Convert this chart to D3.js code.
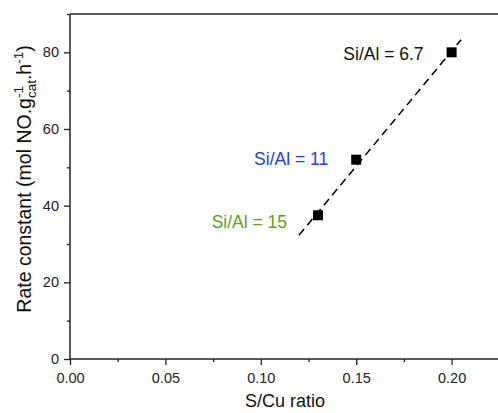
<!DOCTYPE html>
<html>
<head>
<meta charset="utf-8">
<script src="https://cdn.jsdelivr.net/npm/d3@7/dist/d3.min.js"></script>
<style>
  html, body { margin: 0; padding: 0; background: #fff; }
  svg { display: block; font-family: "Liberation Sans", Arial, sans-serif; }
</style>
</head>
<body>
<svg id="chart" width="498" height="413"></svg>
<script>
// ---- data ----
const sCuRatio = [0.13, 0.15, 0.20];
const rateConstant = [37.5, 52, 80];
const siAlLabels = ["Si/Al = 15", "Si/Al = 11", "Si/Al = 6.7"];
const labelColors = ["#5f9f1f", "#1e3ef5", "#111111"];
const fitX = [0.12, 0.205];
const fitY = [32.3, 83.3];
const xTicks = [0.00, 0.05, 0.10, 0.15, 0.20];
const xMinorTicks = [0.025, 0.075, 0.125, 0.175, 0.225];
const yTicks = [0, 20, 40, 60, 80];
const yMinorTicks = [10, 30, 50, 70, 90];

(function () {
// ---- layout ----
const svg = d3.select("#chart");
const mLeft = 70, mTop = 14, mBottom = 359, mRight = 499.3;
const x = d3.scaleLinear().domain([0, 0.225]).range([mLeft, mRight]);
const y = d3.scaleLinear().domain([0, 90]).range([mBottom, mTop]);
const axisColor = "#222";

// minor ticks
const xMinor = svg.append("g").attr("transform", `translate(0,${mBottom})`)
  .call(d3.axisBottom(x).tickValues(xMinorTicks).tickSize(3).tickFormat(""));
const yMinor = svg.append("g").attr("transform", `translate(${mLeft},0)`)
  .call(d3.axisLeft(y).tickValues(yMinorTicks).tickSize(3).tickFormat(""));
[xMinor, yMinor].forEach(g => {
  g.select(".domain").remove();
  g.selectAll("line").attr("stroke", axisColor).attr("stroke-width", 1.3);
});

// major axes
const xAxis = svg.append("g").attr("transform", `translate(0,${mBottom})`)
  .call(d3.axisBottom(x).tickValues(xTicks).tickSize(6).tickPadding(8).tickFormat(d3.format(".2f")));
const yAxis = svg.append("g").attr("transform", `translate(${mLeft},0)`)
  .call(d3.axisLeft(y).tickValues(yTicks).tickSize(6).tickPadding(5).tickFormat(d3.format("d")));
[xAxis, yAxis].forEach(g => {
  g.select(".domain").attr("stroke", axisColor).attr("stroke-width", 1.5);
  g.selectAll("line").attr("stroke", axisColor).attr("stroke-width", 1.3);
  g.selectAll("text").attr("fill", "#222").style("font-size", "14.5px")
    .style("font-family", "'Liberation Sans', Arial, sans-serif");
});
xAxis.select(".domain").attr("d", `M${mLeft},0H${mRight}`);
yAxis.select(".domain").attr("d", `M0,${mBottom}V${mTop}`);

// top frame line
svg.append("line").attr("x1", mLeft).attr("x2", mRight).attr("y1", mTop).attr("y2", mTop)
  .attr("stroke", axisColor).attr("stroke-width", 1.5);

// fit line (dashed)
svg.append("path")
  .datum(fitX.map((d, i) => [d, fitY[i]]))
  .attr("d", d3.line().x(d => x(d[0])).y(d => y(d[1])))
  .attr("fill", "none").attr("stroke", "#000").attr("stroke-width", 1.5)
  .attr("stroke-dasharray", "8,5");

// points
svg.append("g").selectAll("rect").data(sCuRatio).join("rect")
  .attr("x", (d) => x(d) - 5)
  .attr("y", (d, i) => y(rateConstant[i]) - 5)
  .attr("width", 10).attr("height", 10).attr("fill", "#000");

// labels
const labelDx = [-31, -28, -28];
const labelDy = [13, 5, 8];
svg.append("g").selectAll("text").data(siAlLabels).join("text")
  .attr("x", (d, i) => x(sCuRatio[i]) + labelDx[i])
  .attr("y", (d, i) => y(rateConstant[i]) + labelDy[i])
  .attr("text-anchor", "end")
  .attr("fill", (d, i) => labelColors[i])
  .style("font-size", "17.5px")
  .text(d => d);

// axis titles
svg.append("text").attr("x", 285).attr("y", 407)
  .attr("text-anchor", "middle").attr("fill", "#111").style("font-size", "18px")
  .text("S/Cu ratio");

// y title with stacked sub/superscript
const gT = svg.append("g").attr("fill", "#111");
const big = 19.5, small = 13.5;
const pieces = [];
let pos = 0;
function addText(str, size, shift) {
  const t = gT.append("text").style("font-size", size + "px").text(str);
  const w = t.node().getComputedTextLength();
  pieces.push({ t, at: pos, shift });
  return w;
}
pos += addText("Rate constant (mol NO.g", big, 0);
const w1 = addText("cat", small, 5);
const w2 = addText("-1", small, -8.5);
pos += Math.max(w1, w2);
pos += addText(".h", big, 0);
pos += addText("-1", small, -8.5);
pos += addText("  )", big, 0);
const total = pos;
const startY = 179 + total / 2;
pieces.forEach(p => {
  p.t.attr("transform", `translate(${31 + p.shift},${startY - p.at}) rotate(-90)`);
});
})();
</script>
</body>
</html>
